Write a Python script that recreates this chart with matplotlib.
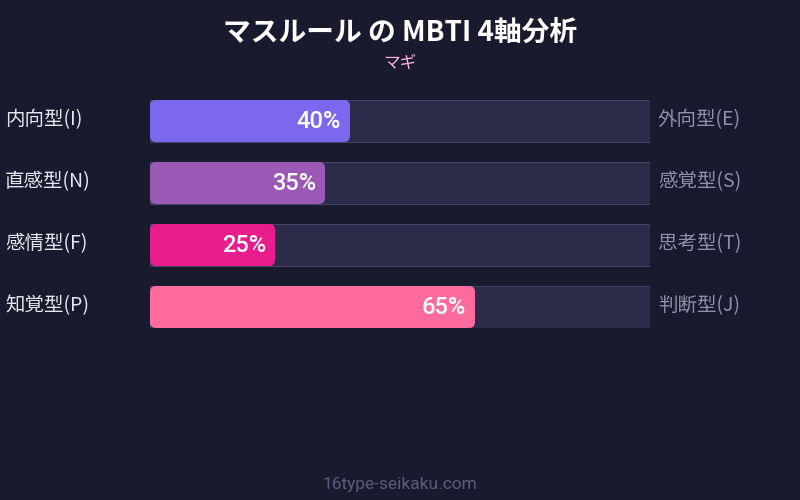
import matplotlib
matplotlib.use("Agg")
import matplotlib.pyplot as plt
from matplotlib.patches import FancyBboxPatch

plt.rcParams['font.family'] = ['Noto Sans CJK JP', 'DejaVu Sans']

title = "マスルール の MBTI 4軸分析"
subtitle = "マギ"
footer = "16type-seikaku.com"

left_labels = ["内向型(I)", "直感型(N)", "感情型(F)", "知覚型(P)"]
right_labels = ["外向型(E)", "感覚型(S)", "思考型(T)", "判断型(J)"]
values = [40, 35, 25, 65]
colors = ["#7b68ee", "#9b59b6", "#e91e8c", "#ff6b9d"]

BG = "#1a1a2e"
TRACK = "#2d2b4a"
TRACK_EDGE = "#44446a"

fig = plt.figure(figsize=(8, 5), dpi=100, facecolor=BG)

# bar area: 150..650 px horizontally, 100..328 px vertically
ax = fig.add_axes([150 / 800, 1 - 328 / 500, 500 / 800, 228 / 500])
ax.set_facecolor(BG)
bar_h = 42 / 62
ax.set_xlim(0, 100)
ax.set_ylim(len(values) - 1 + bar_h / 2, -bar_h / 2)
ax.axis("off")

# px per data unit
px_x = 500 / 100
px_y = 62
radius = 6 / px_x

for i, v in enumerate(values):
    ax.barh(i, 100, height=bar_h, color=TRACK, edgecolor=TRACK_EDGE,
            linewidth=0.8, zorder=1)
    patch = FancyBboxPatch((0, i - bar_h / 2), v, bar_h,
                           boxstyle="round,pad=0,rounding_size=%f" % radius,
                           mutation_aspect=(px_x / px_y),
                           facecolor=colors[i], edgecolor="none", zorder=2)
    ax.add_patch(patch)
    ax.text(v - 9 / px_x, i, f"{v}%", ha="right", va="center",
            color="white", fontsize=17, fontweight="medium",
            family=["Roboto", "DejaVu Sans"], zorder=3)
    ax.text(-145 / px_x, i - 0.03, left_labels[i], ha="left", va="center",
            color="#e6e6f0", fontsize=14, clip_on=False)
    ax.text(100 + 8 / px_x, i - 0.03, right_labels[i], ha="left", va="center",
            color="#9090a8", fontsize=14, clip_on=False)

fig.text(0.5, 1 - 33 / 500, title, ha="center", va="center", color="white",
         fontsize=20, fontweight="bold")
fig.text(0.5, 1 - 63 / 500, subtitle, ha="center", va="center",
         color="#ffb3d9", fontsize=12)
fig.text(0.5, 1 - 484 / 500, footer, ha="center", va="center",
         color="#5c5c7a", fontsize=12.5, family=["Roboto", "DejaVu Sans"])

fig.savefig("out.png", dpi=100, facecolor=BG)
